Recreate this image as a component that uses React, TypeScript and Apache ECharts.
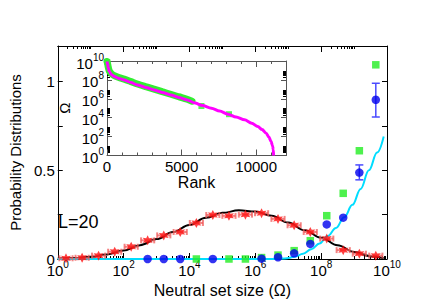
import React, { useEffect, useRef } from "react";
import * as echarts from "echarts";

// ---------- Main panel: probability distributions vs log10(neutral set size Ω)
const redLogOmega = [0.25, 0.74, 1.24, 1.73, 2.23, 2.73, 3.22, 3.72, 4.21, 4.71, 5.2, 5.7, 6.19, 6.69, 7.18, 7.67, 8.17, 8.67, 9.16, 9.66];
const redProb = [0.004, 0.007, 0.019, 0.041, 0.069, 0.105, 0.133, 0.152, 0.203, 0.248, 0.243, 0.25, 0.258, 0.226, 0.19, 0.152, 0.115, 0.05, 0.03, 0.019];
const redErrLog = [0.2, 0.2, 0.2, 0.2, 0.2, 0.2, 0.2, 0.2, 0.2, 0.2, 0.2, 0.2, 0.2, 0.2, 0.2, 0.2, 0.2, 0.2, 0.2, 0.2];

const blueLogOmega = [2.73, 3.22, 3.72, 4.71, 6.19, 6.69, 7.18, 7.67, 8.17, 8.67, 9.16, 9.66];
const blueProb = [0, 0, 0, 0, 0.002, 0.01, 0.032, 0.085, 0.195, 0.233, 0.487, 0.897];
const blueErrLogOmega = [9.16, 9.66];
const blueErrLow = [0.446, 0.8];
const blueErrHigh = [0.53, 0.99];

const greenLogOmega = [4.21, 5.2, 5.7, 6.19, 6.69, 7.18, 7.67, 8.17, 8.67, 9.16, 9.66];
const greenProb = [0, 0, 0, 0.008, 0.022, 0.047, 0.103, 0.244, 0.37, 0.61, 1.094];

const blackFitLog = [0, 0.5, 1, 1.5, 2, 2.5, 3, 3.5, 4, 4.5, 5, 5.5, 6, 6.5, 7, 7.5, 8, 8.5, 9, 9.5, 9.9];
const blackFitProb = [0.003, 0.006, 0.012, 0.026, 0.048, 0.078, 0.112, 0.152, 0.192, 0.232, 0.26, 0.274, 0.268, 0.243, 0.205, 0.162, 0.12, 0.078, 0.04, 0.016, 0.004];

const cyanFitLog = [0, 6.5, 6.9, 7.2, 7.45, 7.7, 7.95, 8.2, 8.45, 8.7, 8.95, 9.2, 9.45, 9.7, 9.9];
const cyanFitProb = [0, 0, 0.003, 0.012, 0.03, 0.055, 0.088, 0.13, 0.175, 0.235, 0.305, 0.395, 0.5, 0.6, 0.69];

const mainXTickExponents = [0, 2, 4, 6, 8, 10];
const mainYTickLabels = ["0", "0.5", "1"];

// ---------- Inset: Ω vs rank
const magentaRank = [0, 40, 80, 155, 300, 490, 800, 1150, 1600, 2040, 2600, 3150, 3700, 4270, 4800, 5370, 5900, 6400, 7000, 7550, 8110, 8650, 9220, 9700, 10110, 10400, 10670, 10850, 11000, 11100, 11150, 11170];
const magentaLogOmega = [9.95, 9.7, 9.3, 8.88, 8.55, 8.35, 8.15, 7.99, 7.72, 7.46, 7.2, 6.93, 6.67, 6.41, 6.15, 5.88, 5.55, 5.28, 5.0, 4.7, 4.37, 4.07, 3.77, 3.42, 3.06, 2.75, 2.36, 1.95, 1.48, 1.0, 0.6, 0];

const greenBandRank = [0, 40, 80, 155, 300, 490, 800, 1150, 1600, 2040, 2600, 3150, 3700, 4270, 4800, 5370, 5700];
const greenBandLogOmega = [9.95, 9.72, 9.38, 8.95, 8.65, 8.45, 8.25, 8.08, 7.82, 7.56, 7.28, 7.02, 6.75, 6.48, 6.22, 5.95, 5.75];
const greenPtsRank = [20, 6330, 8180];
const greenPtsLogOmega = [9.9, 5.24, 4.37];

const insetXLabels = [0, 5000, 10000];
const insetYTickExponents = [0, 2, 4, 6, 8, 10];

// ---------- styling helpers
const FONT = "Liberation Sans, Arial, Helvetica, sans-serif";

function starPath(n: number, inner: number): string {
  let d = "";
  for (let i = 0; i < 2 * n; i++) {
    const r = i % 2 === 0 ? 1 : inner;
    const ang = -Math.PI / 2 + (i * Math.PI) / n;
    const px = 50 + 50 * r * Math.cos(ang);
    const py = 50 + 50 * r * Math.sin(ang);
    d += (i === 0 ? "M" : "L") + px.toFixed(2) + " " + py.toFixed(2) + " ";
  }
  return "path://" + d + "Z";
}

function logMinor(decades: number[], ks: number[]): number[] {
  const out: number[] = [];
  decades.forEach((m) => ks.forEach((k) => out.push(m + Math.log10(k))));
  return out;
}

// "10" with a raised exponent inside a compact 14px block
const supRich = {
  b: { fontSize: 15, fontFamily: FONT, color: "#000", lineHeight: 14, height: 14, verticalAlign: "bottom" },
  s: { fontSize: 10, fontFamily: FONT, color: "#000", lineHeight: 2, height: 2, verticalAlign: "top" },
};

const zip = (a: number[], b: number[]) => a.map((v, i) => [v, b[i]]);

export default function App() {
  const ref = useRef<HTMLDivElement>(null);
  useEffect(() => {
    if (!ref.current) return;
    const chart = echarts.init(ref.current, null, { renderer: "svg" });

    const topMinor = logMinor([0, 2, 4, 6, 8], [2, 3, 4, 5, 6, 7, 8, 9, 10]);
    const bottomMinor = logMinor([1, 3, 5, 7, 9], [1, 2, 3, 4, 5, 6, 7, 8, 9]);
    const insetBlobs = logMinor([0, 2, 4, 6, 8], [2, 3, 4, 5, 6, 7, 8, 9]);

    const mainLine = { show: true, onZero: false, lineStyle: { color: "#000", width: 1 } };
    const insetLine = { show: true, onZero: false, lineStyle: { color: "#555", width: 1 } };
    const noLine = { show: false, onZero: false };

    const mainX = (pos: string, extra: any) => ({ type: "value", gridIndex: 0, position: pos, min: 0, max: 10, interval: 2, splitLine: { show: false }, axisLabel: { show: false }, ...extra });
    const insetX = (pos: string, extra: any) => ({ type: "value", gridIndex: 1, position: pos, min: 0, max: 12000, interval: 1000, splitLine: { show: false }, axisLabel: { show: false }, ...extra });
    const insetY = (pos: string, extra: any) => ({ type: "value", gridIndex: 1, position: pos, min: 0, max: 10, interval: 2, splitLine: { show: false }, axisLabel: { show: false }, ...extra });
    const mainY = (pos: string, extra: any) => ({ type: "value", gridIndex: 0, position: pos, min: 0, max: 1.2, interval: 0.25, splitLine: { show: false }, axisLabel: { show: false }, ...extra });

    const option: any = {
      animation: false,
      backgroundColor: "#fff",
      textStyle: { fontFamily: FONT },
      grid: [
        { left: 50, top: 46, width: 337, height: 213, containLabel: false },
        { left: 107, top: 61, width: 179, height: 94.5, show: true, backgroundColor: "#fff", borderWidth: 0, containLabel: false },
      ],
      xAxis: [
        mainX("bottom", {
          axisLine: mainLine,
          axisTick: { show: true, inside: true, length: 6, lineStyle: { color: "#000" } },
          axisLabel: {
            show: true, interval: 0, margin: 4, rich: supRich, showMinLabel: true, showMaxLabel: true, hideOverlap: false,
            formatter: (v: number) => (mainXTickExponents.includes(v) ? `{b|10}{s|${v}}` : ""),
          },
          name: "Neutral set size (Ω)", nameLocation: "middle", nameGap: 21,
          nameTextStyle: { fontSize: 16, fontFamily: FONT, color: "#000", verticalAlign: "top" },
        }),
        mainX("top", { axisLine: mainLine, axisTick: { show: true, inside: true, length: 6, lineStyle: { color: "#000" } } }),
        mainX("bottom", { axisLine: noLine, axisTick: { show: true, inside: true, length: 3, customValues: bottomMinor, lineStyle: { color: "#000" } } }),
        mainX("top", { axisLine: noLine, axisTick: { show: true, inside: true, length: 3, customValues: topMinor, lineStyle: { color: "#000" } } }),
        insetX("bottom", {
          axisLine: insetLine,
          axisTick: { show: true, inside: true, length: 3, lineStyle: { color: "#555" } },
          axisLabel: {
            show: true, interval: 0, margin: 3, fontSize: 15, fontFamily: FONT, color: "#000", hideOverlap: false,
            formatter: (v: number) => (insetXLabels.includes(v) ? String(v) : ""),
          },
          name: "Rank", nameLocation: "middle", nameGap: 16,
          nameTextStyle: { fontSize: 16, fontFamily: FONT, color: "#000", verticalAlign: "top" },
        }),
        insetX("top", { axisLine: insetLine, axisTick: { show: true, inside: true, length: 3, lineStyle: { color: "#555" } } }),
        insetX("bottom", { axisLine: noLine, axisTick: { show: true, inside: true, length: 6, customValues: insetXLabels, lineStyle: { color: "#555" } } }),
        insetX("top", { axisLine: noLine, axisTick: { show: true, inside: true, length: 6, customValues: insetXLabels, lineStyle: { color: "#555" } } }),
      ],
      yAxis: [
        mainY("left", {
          axisLine: mainLine,
          axisTick: { show: true, inside: true, length: 5, lineStyle: { color: "#000" } },
          axisLabel: {
            show: true, interval: 0, margin: 3, fontSize: 15, fontFamily: FONT, color: "#000", lineHeight: 8,
            formatter: (v: number) => {
              const s = String(Math.round(v * 100) / 100);
              return mainYTickLabels.includes(s) ? s : "";
            },
          },
          name: "Probability Distributions", nameLocation: "middle", nameGap: 29,
          nameTextStyle: { fontSize: 15, fontFamily: FONT, color: "#000" },
        }),
        mainY("right", { axisLine: mainLine, axisTick: { show: true, inside: true, length: 5, lineStyle: { color: "#000" } } }),
        insetY("left", {
          axisLine: insetLine,
          axisTick: { show: true, inside: true, length: 5, lineStyle: { color: "#555" } },
          axisLabel: {
            show: true, interval: 0, margin: 3, rich: supRich, padding: [4, 0, 0, 0],
            showMinLabel: true, showMaxLabel: true, hideOverlap: false,
            formatter: (v: number) => (insetYTickExponents.includes(v) ? `{b|10}{s|${v}}` : ""),
          },
          name: "Ω", nameLocation: "middle", nameGap: 34,
          nameTextStyle: { fontSize: 15, fontFamily: FONT, color: "#000" },
        }),
        insetY("right", { axisLine: insetLine, axisTick: { show: true, inside: true, length: 5, lineStyle: { color: "#555" } } }),
        insetY("left", { axisLine: noLine, axisTick: { show: true, inside: true, length: 3, customValues: insetBlobs, lineStyle: { color: "#000" } } }),
        insetY("right", { axisLine: noLine, axisTick: { show: true, inside: true, length: 3, customValues: insetBlobs, lineStyle: { color: "#000" } } }),
      ],
      graphic: [
        { type: "text", left: 58, top: 213, style: { text: "L=20", fontSize: 18, fontFamily: FONT, fill: "#000" } },
      ],
      series: [
        { type: "line", xAxisIndex: 0, yAxisIndex: 0, data: zip(blackFitLog, blackFitProb), smooth: 0.4, smoothMonotone: "x", showSymbol: false, z: 3, lineStyle: { color: "#000", width: 2 } },
        { type: "line", xAxisIndex: 0, yAxisIndex: 0, data: zip(cyanFitLog, cyanFitProb), smooth: 0.4, smoothMonotone: "x", showSymbol: false, z: 3, lineStyle: { color: "#00ddff", width: 2 } },
        {
          type: "custom", xAxisIndex: 0, yAxisIndex: 0, z: 4,
          data: redLogOmega.map((x, i) => [x, redProb[i], redErrLog[i]]),
          renderItem: (_p: any, api: any) => {
            const x = api.value(0), y = api.value(1), e = api.value(2);
            const a = api.coord([x - e, y]);
            const b = api.coord([x + e, y]);
            const h = 3;
            const st = { stroke: "rgba(240,90,90,0.75)", lineWidth: 2 };
            return { type: "group", children: [
              { type: "line", shape: { x1: a[0], y1: a[1], x2: b[0], y2: b[1] }, style: st },
              { type: "line", shape: { x1: a[0], y1: a[1] - h, x2: a[0], y2: a[1] + h }, style: st },
              { type: "line", shape: { x1: b[0], y1: b[1] - h, x2: b[0], y2: b[1] + h }, style: st },
            ] };
          },
        },
        { type: "scatter", xAxisIndex: 0, yAxisIndex: 0, z: 5, data: zip(redLogOmega, redProb), symbol: starPath(6, 0.5), symbolSize: 10, itemStyle: { color: "#ff1010" } },
        { type: "scatter", xAxisIndex: 0, yAxisIndex: 0, z: 5, data: zip(greenLogOmega, greenProb), symbol: "rect", symbolSize: 7.5, itemStyle: { color: "#22ee22" } },
        {
          type: "custom", xAxisIndex: 0, yAxisIndex: 0, z: 6,
          data: blueErrLogOmega.map((x, i) => [x, blueErrLow[i], blueErrHigh[i]]),
          renderItem: (_p: any, api: any) => {
            const x = api.value(0);
            const lo = api.coord([x, api.value(1)]);
            const hi = api.coord([x, api.value(2)]);
            const w = 4;
            const st = { stroke: "#4a4aff", lineWidth: 1.5 };
            return { type: "group", children: [
              { type: "line", shape: { x1: lo[0], y1: lo[1], x2: hi[0], y2: hi[1] }, style: st },
              { type: "line", shape: { x1: lo[0] - w, y1: lo[1], x2: lo[0] + w, y2: lo[1] }, style: st },
              { type: "line", shape: { x1: hi[0] - w, y1: hi[1], x2: hi[0] + w, y2: hi[1] }, style: st },
            ] };
          },
        },
        { type: "scatter", xAxisIndex: 0, yAxisIndex: 0, z: 7, data: zip(blueLogOmega, blueProb), symbol: "circle", symbolSize: 8.5, itemStyle: { color: "#0000ee" } },
        // inset
        { type: "line", xAxisIndex: 4, yAxisIndex: 2, data: zip(greenBandRank, greenBandLogOmega), smooth: 0.3, showSymbol: false, z: 3, lineStyle: { color: "#33ee33", width: 7, cap: "round" } },
        { type: "scatter", xAxisIndex: 4, yAxisIndex: 2, data: zip(greenPtsRank, greenPtsLogOmega), symbol: "rect", symbolSize: 6, z: 3, itemStyle: { color: "#33ee33" } },
        { type: "line", xAxisIndex: 4, yAxisIndex: 2, data: zip(magentaRank, magentaLogOmega), smooth: 0.3, smoothMonotone: "x", showSymbol: false, z: 4, lineStyle: { color: "#ff00ff", width: 3 } },
      ],
    };

    chart.setOption(option);
    return () => chart.dispose();
  }, []);

  return (
    <div
      ref={ref}
      style={{ position: "fixed", left: 0, top: 0, width: 436, height: 305, background: "#fff" }}
    />
  );
}
